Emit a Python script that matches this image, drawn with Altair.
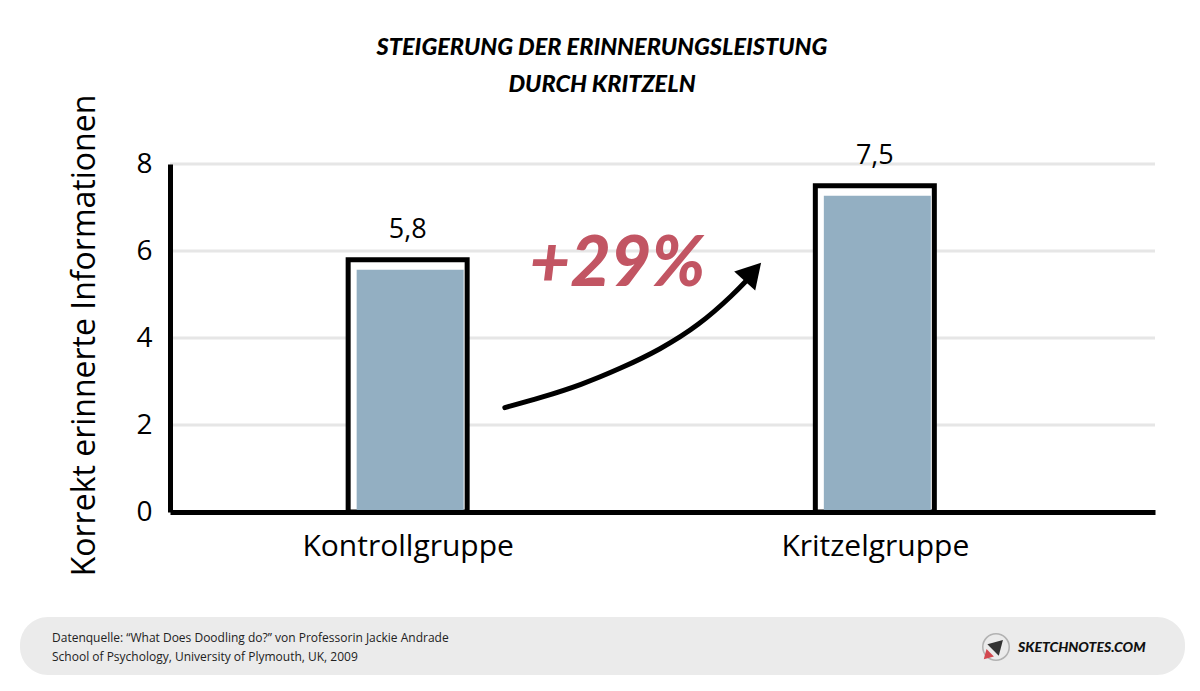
import json
import altair as alt
import pandas as pd

# ---------------- data ----------------
categories = ["Kontrollgruppe", "Kritzelgruppe"]
group_pos = [0, 1]
values = [5.8, 7.5]

grid_values = [2, 4, 6, 8]
y_ticks = [0, 2, 4, 6, 8]

# annotation arrow (in data units: x = position between groups, y = value scale)
arrow_x = [0.208, 0.286, 0.371, 0.456, 0.540, 0.625, 0.699, 0.727]
arrow_y = [2.40, 2.63, 2.92, 3.30, 3.73, 4.30, 5.02, 5.34]
arrow_head_x = [0.739]
arrow_head_y = [5.52]
increase_label = ["+29%"]
increase_x = [0.449]
increase_y = [5.68]

title_lines = ["STEIGERUNG DER ERINNERUNGSLEISTUNG", "DURCH KRITZELN"]
y_title = "Korrekt erinnerte Informationen"
footer_lines = [
    "Datenquelle: \u201cWhat Does Doodling do?\u201d von Professorin Jackie Andrade",
    "School of Psychology, University of Plymouth, UK, 2009",
]
logo_text = "SKETCHNOTES.COM"

FONT = "Open Sans"
W, H = 985, 348

bars = pd.DataFrame({"pos": group_pos, "cat": categories, "value": values})
grid_df = pd.DataFrame({"v": grid_values})
arrow_df = pd.DataFrame({"x": arrow_x, "y": arrow_y, "o": list(range(len(arrow_x)))})
head_df = pd.DataFrame({"x": arrow_head_x, "y": arrow_head_y})
inc_df = pd.DataFrame({"x": increase_x, "y": increase_y, "t": increase_label})
one = pd.DataFrame({"a": [0]})

x_scale = alt.Scale(domain=[-0.498, 1.589], nice=False, zero=False)
y_scale = alt.Scale(domain=[0, 8], nice=False)

label_expr = json.dumps(categories) + "[datum.value]"

x_axis = alt.Axis(
    values=group_pos, labelExpr=label_expr, title=None, grid=False, ticks=False,
    domainColor="black", domainWidth=5, labelFontSize=30, labelFont=FONT,
    labelColor="black", labelPadding=19, labelLimit=600, zindex=1,
)
y_axis = alt.Axis(
    values=y_ticks, title=y_title, grid=False, ticks=False,
    domainColor="black", domainWidth=5, labelFontSize=28, labelFont=FONT,
    labelColor="black", labelPadding=18, zindex=1,
    titleFont=FONT, titleFontSize=32, titleFontWeight="normal", titleColor="black",
    titleX=-86, titleY=171, titleAlign="center", titleBaseline="middle", titleAngle=-90,
    titleLimit=800,
)

grid = alt.Chart(grid_df).mark_rule(color="#e6e6e6", strokeWidth=3).encode(
    y=alt.Y("v:Q", scale=y_scale, axis=y_axis)
)

outline = alt.Chart(bars).mark_bar(
    fill="white", stroke="black", strokeWidth=5, size=119
).encode(
    x=alt.X("pos:Q", scale=x_scale, axis=x_axis),
    y=alt.Y("value:Q", scale=y_scale),
)

fill = alt.Chart(bars).mark_bar(
    color="#93afc2", size=107, xOffset=2.5, yOffset=10, clip=True
).encode(
    x=alt.X("pos:Q", scale=x_scale),
    y=alt.Y("value:Q", scale=y_scale),
)

value_labels = alt.Chart(bars).transform_calculate(
    label="replace(format(datum.value, '.1f'), '.', ',')"
).mark_text(
    font=FONT, fontSize=27, color="black", baseline="bottom", dy=-16
).encode(
    x=alt.X("pos:Q", scale=x_scale),
    y=alt.Y("value:Q", scale=y_scale),
    text="label:N",
)

arrow = alt.Chart(arrow_df).mark_line(
    color="black", strokeWidth=5, strokeCap="round", interpolate="basis"
).encode(
    x=alt.X("x:Q", scale=x_scale),
    y=alt.Y("y:Q", scale=y_scale),
    order="o:Q",
)

arrow_head = alt.Chart(head_df).mark_point(
    shape="triangle-up", filled=True, color="black", size=800, angle=42, opacity=1
).encode(
    x=alt.X("x:Q", scale=x_scale),
    y=alt.Y("y:Q", scale=y_scale),
)

increase = alt.Chart(inc_df).mark_text(
    font="Lato", fontSize=70, fontWeight=900, fontStyle="italic", color="#c25563",
    align="center", baseline="middle"
).encode(
    x=alt.X("x:Q", scale=x_scale),
    y=alt.Y("y:Q", scale=y_scale),
    text="t:N",
)

title1 = alt.Chart(one).mark_text(
    font="Lato", fontSize=23.5, fontWeight=900, fontStyle="italic", color="black",
    align="center", baseline="middle"
).encode(x=alt.value(432), y=alt.value(-116), text=alt.value(title_lines[0]))
title2 = alt.Chart(one).mark_text(
    font="Lato", fontSize=23.5, fontWeight=900, fontStyle="italic", color="black",
    align="center", baseline="middle"
).encode(x=alt.value(432), y=alt.value(-79), text=alt.value(title_lines[1]))

footer_band = alt.Chart(one).mark_rect(color="#ebebeb", cornerRadius=28).encode(
    x=alt.value(-150), x2=alt.value(1015), y=alt.value(453), y2=alt.value(511)
)
footer1 = alt.Chart(one).mark_text(
    font=FONT, fontSize=12, color="#222", align="left", baseline="middle"
).encode(x=alt.value(-118), y=alt.value(474), text=alt.value(footer_lines[0]))
footer2 = alt.Chart(one).mark_text(
    font=FONT, fontSize=12, color="#222", align="left", baseline="middle"
).encode(x=alt.value(-118), y=alt.value(493), text=alt.value(footer_lines[1]))

logo_circle = alt.Chart(one).mark_point(
    shape="circle", size=700, stroke="#9a9a9a", strokeWidth=1.5, filled=False
).encode(x=alt.value(826), y=alt.value(483))
logo_rocket = alt.Chart(one).mark_point(
    shape="triangle-up", size=260, filled=True, color="#333", angle=45, opacity=1
).encode(x=alt.value(828), y=alt.value(481))
logo_flame = alt.Chart(one).mark_point(
    shape="triangle-down", size=110, filled=True, color="#d2484f", angle=45, opacity=1
).encode(x=alt.value(817), y=alt.value(492))
logo = alt.Chart(one).mark_text(
    font="Lato", fontSize=14, fontWeight=900, fontStyle="italic", color="#111",
    align="left", baseline="middle"
).encode(x=alt.value(848), y=alt.value(484), text=alt.value(logo_text))

chart = alt.layer(
    footer_band, grid, outline, fill, value_labels, arrow, arrow_head, increase,
    title1, title2, footer1, footer2, logo_circle, logo_rocket, logo_flame, logo,
).properties(
    width=W, height=H,
    autosize=alt.AutoSizeParams(type="none"),
    padding={"left": 170, "top": 164, "right": 45, "bottom": 179},
    background="white",
).configure_view(stroke=None)

chart.save("out.html", embed_options={"renderer": "svg", "actions": False})
